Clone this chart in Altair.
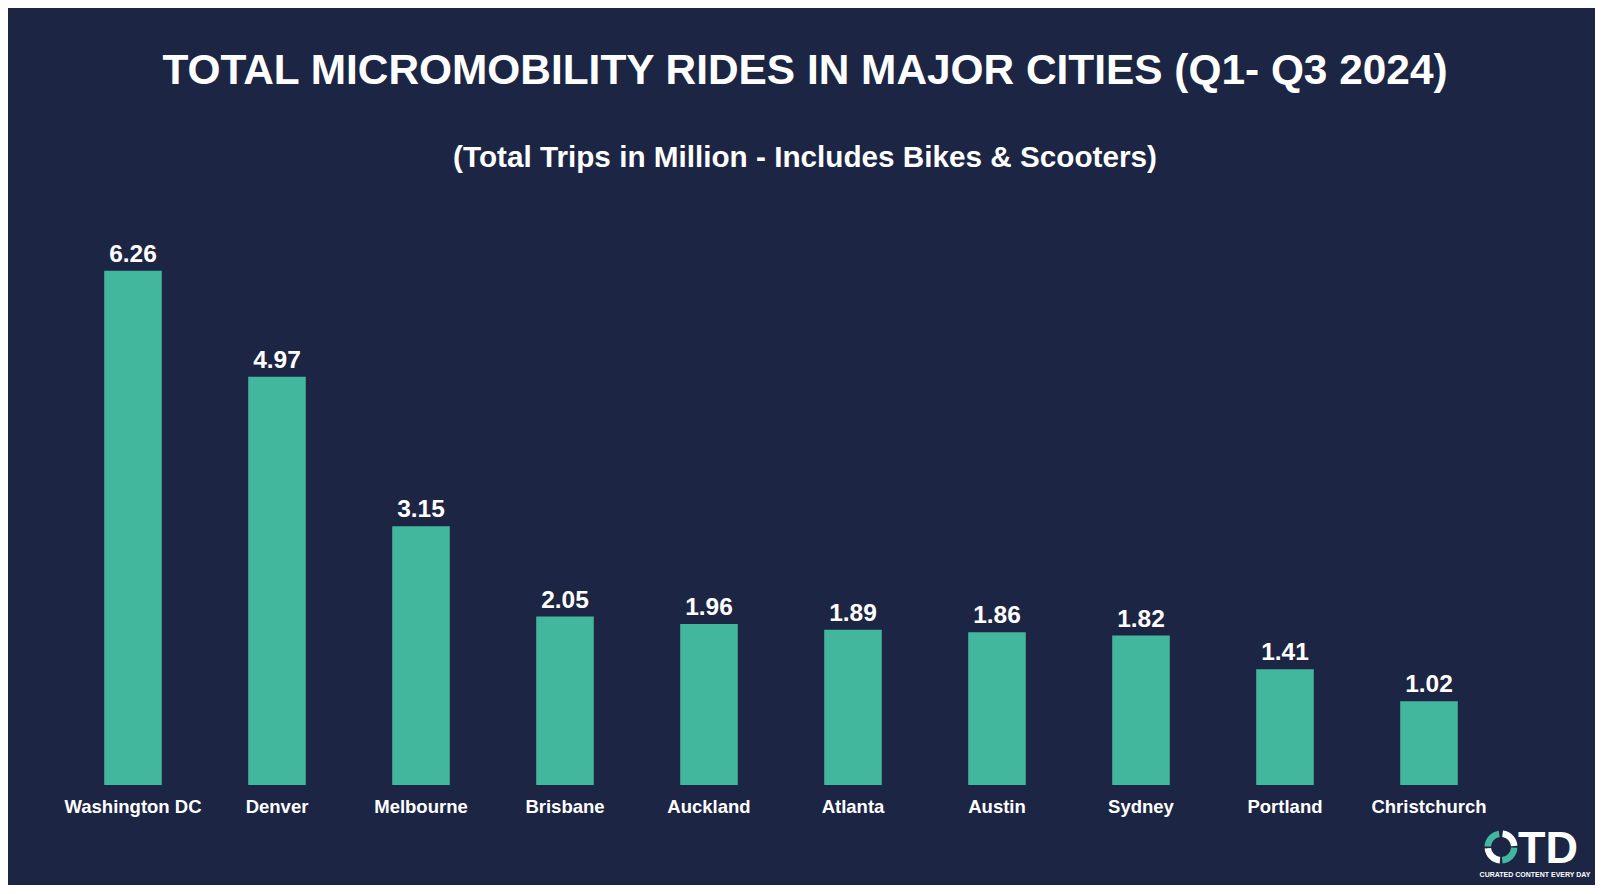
import altair as alt
import pandas as pd

cities = ["Washington DC", "Denver", "Melbourne", "Brisbane", "Auckland",
          "Atlanta", "Austin", "Sydney", "Portland", "Christchurch"]
rides = [6.26, 4.97, 3.15, 2.05, 1.96, 1.89, 1.86, 1.82, 1.41, 1.02]

BG = "#1c2644"
TEAL = "#42b79d"
FONT = "Liberation Sans"

df = pd.DataFrame({"city": cities, "rides": rides})

xenc = alt.X("city:N", sort=cities, title=None,
             scale=alt.Scale(paddingInner=0.6, paddingOuter=0.3),
             axis=alt.Axis(labelAngle=0, labelFont=FONT, labelFontSize=18.5,
                           labelFontWeight="bold", labelColor="white",
                           labelPadding=12, domain=False, ticks=False, grid=False))
yenc = alt.Y("rides:Q", title=None, axis=None,
             scale=alt.Scale(domain=[0, 7], nice=False, zero=True))

bars = alt.Chart(df).mark_bar(color=TEAL).encode(x=xenc, y=yenc)
labels = alt.Chart(df).mark_text(font=FONT, fontSize=24.5, fontWeight="bold",
                                 color="white", baseline="alphabetic", dy=-9).encode(
    x=alt.X("city:N", sort=cities), y="rides:Q", text=alt.Text("rides:Q", format=".2f"))

logo_df = pd.DataFrame({"k": [0]})
arcs = []
for t1, t2, col in [(4.75, 6.15, TEAL), (0.12, 1.50, "white"),
                    (1.62, 3.05, TEAL), (3.22, 4.62, "white")]:
    arcs.append(alt.Chart(logo_df).mark_arc(radius=16.5, radius2=10, theta=t1, theta2=t2,
                                           color=col).encode(
        x=alt.value(1440), y=alt.value(637)))
logo_td = alt.Chart(logo_df).mark_text(text="TD", font=FONT, fontSize=45, fontWeight="bold",
                                       color="white", align="left", baseline="alphabetic").encode(
    x=alt.value(1457), y=alt.value(653))
logo_sub = alt.Chart(logo_df).mark_text(text="CURATED CONTENT EVERY DAY", font=FONT, fontSize=7,
                                        fontWeight="bold", color="white", align="center",
                                        baseline="middle").encode(
    x=alt.value(1474), y=alt.value(665))

chart = alt.layer(bars, labels, *arcs, logo_td, logo_sub).properties(
    width=1440, height=575,
    title=alt.TitleParams(
        text="TOTAL MICROMOBILITY RIDES IN MAJOR CITIES (Q1- Q3 2024)",
        subtitle="(Total Trips in Million - Includes Bikes & Scooters)",
        font=FONT, fontSize=42.4, fontWeight="bold", color="white",
        subtitleFont=FONT, subtitleFontSize=29.7, subtitleFontWeight="bold",
        subtitleColor="white", subtitlePadding=51, offset=36, anchor="middle", dx=24),
    background=BG,
    padding={"left": 53, "right": 94, "top": 202, "bottom": 100},
    autosize=alt.AutoSizeParams(type="none"),
).configure_view(stroke=None)

chart.save("out.html", embed_options={"renderer": "svg", "actions": False})
